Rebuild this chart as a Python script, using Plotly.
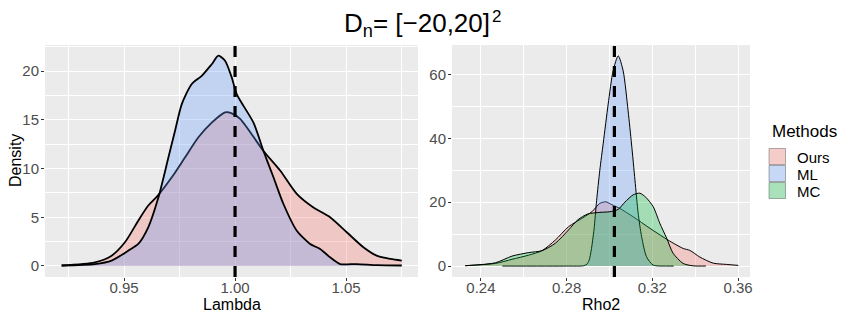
import plotly.graph_objects as go

# ---------------- data ----------------
methods = ["Ours", "ML", "MC"]
fill_colors = ["rgba(248,118,109,0.3)", "rgba(97,156,255,0.3)", "rgba(0,186,56,0.3)"]

true_lambda = 1.00
true_rho2 = 0.3023

# Lambda panel
lam_ours_x = [0.9219, 0.9369, 0.9444, 0.9504, 0.9564, 0.9609, 0.9655, 0.9715, 0.9775, 0.9835,
              0.9895, 0.9955, 0.9985, 1.0023, 1.0128, 1.0203, 1.0278, 1.0353, 1.0428, 1.0503,
              1.0578, 1.0638, 1.0700, 1.0751]
lam_ours_y = [0.05, 0.38, 1.06, 2.43, 4.65, 6.2, 7.3, 9.1, 11.15, 13.2,
              14.7, 15.76, 15.66, 15.1, 11.8, 9.8, 7.4, 6.0, 5.0, 3.46,
              1.92, 1.06, 0.72, 0.55]
lam_ml_x = [0.9219, 0.9369, 0.9444, 0.9519, 0.9564, 0.9609, 0.9655, 0.9700, 0.9730, 0.9760,
            0.9805, 0.9850, 0.9895, 0.9925, 0.9955, 0.9985, 1.0008, 1.0083, 1.0128, 1.0173,
            1.0218, 1.0278, 1.0338, 1.0383, 1.0428, 1.0473, 1.0548, 1.0640, 1.0751]
lam_ml_y = [0.05, 0.2, 0.55, 1.57, 2.26, 3.97, 7.05, 11.15, 13.9, 16.6,
            18.67, 19.5, 20.7, 21.57, 21.06, 19.35, 17.6, 14.7, 11.8, 9.1,
            6.36, 3.62, 2.26, 1.74, 0.89, 0.2, 0.2, 0.08, 0.05]

# Rho2 panel
rho_ours_x = [0.2327, 0.2467, 0.2545, 0.2623, 0.2685, 0.2747, 0.2809, 0.2871, 0.2918, 0.2955,
              0.2983, 0.3011, 0.3049, 0.3111, 0.3189, 0.3274, 0.3344, 0.3375, 0.3422, 0.3484,
              0.3547, 0.3601]
rho_ours_y = [0.1, 0.8, 2.1, 3.4, 4.8, 8.1, 12.3, 14.9, 17.0, 19.6,
              20.1, 19.2, 18.0, 15.4, 11.8, 8.1, 5.5, 4.9, 2.8, 0.9,
              0.5, 0.2]
rho_ml_x = [0.2500, 0.2800, 0.2880, 0.2895, 0.2905, 0.2915, 0.2928, 0.2940, 0.2955, 0.2971,
            0.2994, 0.3017, 0.3041, 0.3064, 0.3087, 0.3103, 0.3119, 0.3134, 0.3150, 0.3173,
            0.3204, 0.3267, 0.3300]
rho_ml_y = [0.0, 0.0, 0.1, 0.6, 1.8, 5.0, 11.5, 20.5, 30.0, 38.5,
            50.7, 61.1, 65.8, 61.1, 48.6, 38.2, 26.9, 16.5, 9.2, 2.9,
            0.3, 0.0, 0.0]
rho_mc_x = [0.2327, 0.2467, 0.2545, 0.2623, 0.2685, 0.2747, 0.2809, 0.2853, 0.2899, 0.2955,
            0.3002, 0.3040, 0.3072, 0.3111, 0.3142, 0.3170, 0.3204, 0.3235, 0.3267, 0.3297,
            0.3344, 0.3391, 0.3450]
rho_mc_y = [0.1, 1.0, 3.1, 4.2, 4.8, 7.1, 11.3, 14.5, 16.3, 16.8,
            17.0, 17.7, 20.0, 22.3, 22.8, 21.5, 18.6, 13.4, 8.7, 4.0,
            0.8, 0.05, 0.0]

lam_ticks = [0.95, 1.00, 1.05]
lam_ticktext = ["0.95", "1.00", "1.05"]
lam_minor = [0.925, 0.975, 1.025, 1.075]
lam_yticks = [0, 5, 10, 15, 20]
lam_yminor = [2.5, 7.5, 12.5, 17.5, 22.5]
rho_ticks = [0.24, 0.28, 0.32, 0.36]
rho_ticktext = ["0.24", "0.28", "0.32", "0.36"]
rho_minor = [0.26, 0.30, 0.34]
rho_yticks = [0, 20, 40, 60]
rho_yminor = [10, 30, 50]

# ---------------- figure ----------------
OFF = 8                     # page body margin of the browser
W, H = 847 - OFF, 318 - OFF
FONT = "Liberation Sans, Arial, sans-serif"

def px_x(p):
    return (p - OFF) / W

def px_y(p):
    return 1 - (p - OFF) / H

fig = go.Figure()

def add_density(x, y, name, color, xa, ya, lw):
    fig.add_trace(go.Scatter(
        x=x, y=y, mode="lines", name=name, fill="tozeroy", fillcolor=color,
        line=dict(color="black", width=lw, shape="spline", smoothing=0.7),
        xaxis=xa, yaxis=ya, showlegend=False, hoverinfo="skip"))

add_density(lam_ours_x, lam_ours_y, methods[0], fill_colors[0], "x", "y", 1.8)
add_density(lam_ml_x, lam_ml_y, methods[1], fill_colors[1], "x", "y", 1.8)
add_density(rho_ours_x, rho_ours_y, methods[0], fill_colors[0], "x2", "y2", 1.0)
add_density(rho_ml_x, rho_ml_y, methods[1], fill_colors[1], "x2", "y2", 1.0)
add_density(rho_mc_x, rho_mc_y, methods[2], fill_colors[2], "x2", "y2", 1.0)

tickfont = dict(family=FONT, size=15, color="#4D4D4D")

def axis_cfg(dom, rng, tv, tt, minor, anchor, standoff):
    return dict(domain=dom, range=rng, tickmode="array", tickvals=tv, ticktext=tt,
                showgrid=True, gridcolor="white", gridwidth=1.1, zeroline=False,
                showline=False, ticks="outside", ticklen=3, tickwidth=1, tickcolor="#333333",
                tickfont=tickfont, anchor=anchor, automargin=False,
                ticklabelstandoff=standoff,
                minor=dict(tickmode="array", tickvals=minor, showgrid=True,
                           gridcolor="white", gridwidth=0.55, ticks=""))

ydom = [px_y(277), px_y(45)]
fig.update_layout(
    xaxis=axis_cfg([px_x(45), px_x(418)], [0.9144, 1.0824], lam_ticks, lam_ticktext, lam_minor, "y", -6),
    yaxis=axis_cfg(ydom, [-1.13, 22.67], lam_yticks, [str(v) for v in lam_yticks], lam_yminor, "x", -1),
    xaxis2=axis_cfg([px_x(452), px_x(750)], [0.2265, 0.3656], rho_ticks, rho_ticktext, rho_minor, "y2", -6),
    yaxis2=axis_cfg(ydom, [-3.44, 69.2], rho_yticks, [str(v) for v in rho_yticks], rho_yminor, "x2", -1),
)

shapes = []
# dashed reference lines
shapes.append(dict(type="line", xref="x", yref="y domain", x0=true_lambda, x1=true_lambda, y0=0, y1=1,
                   line=dict(color="black", width=3.2, dash="11px,9px")))
shapes.append(dict(type="line", xref="x2", yref="y2 domain", x0=true_rho2, x1=true_rho2, y0=0, y1=1,
                   line=dict(color="black", width=3.2, dash="11px,9px")))

annotations = []
# title (main part + exponent)
annotations.append(dict(text="D<sub>n</sub>= [−20,20]", x=px_x(491), y=px_y(24.5), xref="paper",
                        yref="paper", xanchor="right", yanchor="middle", showarrow=False, borderpad=0,
                        font=dict(family=FONT, size=26, color="black")))
annotations.append(dict(text="2", x=px_x(491), y=px_y(16.5), xref="paper",
                        yref="paper", xanchor="left", yanchor="middle", showarrow=False, borderpad=0,
                        font=dict(family=FONT, size=17, color="black")))
# axis titles
annotations.append(dict(text="Lambda", x=px_x(231.5), y=px_y(304), xref="paper", yref="paper",
                        xanchor="center", yanchor="middle", showarrow=False,
                        font=dict(family=FONT, size=16, color="black")))
annotations.append(dict(text="Rho2", x=px_x(601), y=px_y(304), xref="paper", yref="paper",
                        xanchor="center", yanchor="middle", showarrow=False,
                        font=dict(family=FONT, size=16, color="black")))
annotations.append(dict(text="Density", x=px_x(15), y=px_y(161), xref="paper", yref="paper",
                        xanchor="center", yanchor="middle", showarrow=False, textangle=-90, borderpad=0,
                        font=dict(family=FONT, size=16, color="black")))
# legend
annotations.append(dict(text="Methods", x=px_x(769.5), y=px_y(131.5), xref="paper", yref="paper",
                        xanchor="left", yanchor="middle", showarrow=False,
                        font=dict(family=FONT, size=17, color="black")))
key_top = [148.5, 165.5, 182.5]
for i, m in enumerate(methods):
    t = key_top[i]
    shapes.append(dict(type="rect", xref="paper", yref="paper", x0=px_x(769), x1=px_x(785.5),
                       y0=px_y(t + 16), y1=px_y(t), fillcolor="#F2F2F2", line=dict(width=0)))
    shapes.append(dict(type="rect", xref="paper", yref="paper", x0=px_x(769), x1=px_x(785.5),
                       y0=px_y(t + 16), y1=px_y(t), fillcolor=fill_colors[i],
                       line=dict(color="rgba(0,0,0,0.3)", width=1)))
    annotations.append(dict(text=m, x=px_x(795), y=px_y(t + 8.5), xref="paper", yref="paper",
                            xanchor="left", yanchor="middle", showarrow=False,
                            font=dict(family=FONT, size=15, color="black")))

fig.update_layout(
    width=W, height=H, autosize=False,
    margin=dict(l=0, r=0, t=0, b=0, pad=0),
    paper_bgcolor="white", plot_bgcolor="#EBEBEB",
    shapes=shapes, annotations=annotations, showlegend=False,
    font=dict(family=FONT),
)

fig.write_html("out.html")
